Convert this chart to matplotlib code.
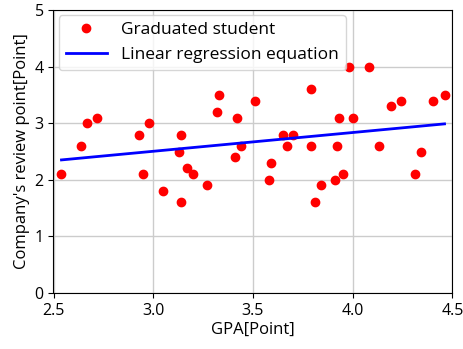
import numpy as np
import matplotlib.pyplot as plt

plt.rcParams['font.family'] = ['Open Sans', 'DejaVu Sans']

# GPA and company review points of graduated students
gpa = [2.54, 2.64, 2.67, 2.72, 2.93, 2.95, 2.98, 3.05, 3.13, 3.14, 3.14,
       3.17, 3.20, 3.27, 3.32, 3.33, 3.41, 3.42, 3.44, 3.51, 3.58, 3.59,
       3.65, 3.67, 3.70, 3.79, 3.79, 3.81, 3.84, 3.91, 3.92, 3.93, 3.95,
       3.98, 4.00, 4.08, 4.13, 4.19, 4.24, 4.31, 4.34, 4.40, 4.46]
review = [2.1, 2.6, 3.0, 3.1, 2.8, 2.1, 3.0, 1.8, 2.5, 2.8, 1.6,
          2.2, 2.1, 1.9, 3.2, 3.5, 2.4, 3.1, 2.6, 3.4, 2.0, 2.3,
          2.8, 2.6, 2.8, 3.6, 2.6, 1.6, 1.9, 2.0, 2.6, 3.1, 2.1,
          4.0, 3.1, 4.0, 2.6, 3.3, 3.4, 2.1, 2.5, 3.4, 3.5]

x = np.array(gpa)
y = np.array(review)
slope, intercept = np.polyfit(x, y, 1)
xs = np.sort(x)

fig = plt.figure(figsize=(4.64, 3.49), dpi=100)
ax = fig.add_axes([53.5 / 464, 56 / 349, 399 / 464, 283 / 349])

ax.plot(x, y, 'o', color='red', markersize=6, label='Graduated student')
ax.plot(xs, slope * xs + intercept, color='blue', linewidth=2,
        label='Linear regression equation')

ax.set_xlim(2.5, 4.5)
ax.set_ylim(0, 5)
ax.set_xticks([2.5, 3.0, 3.5, 4.0, 4.5])
ax.set_xlabel('GPA[Point]', fontsize=12, labelpad=2)
ax.set_ylabel("Company's review point[Point]", fontsize=12, labelpad=3)
ax.tick_params(labelsize=11.5)
ax.grid(True, color='#cccccc', linewidth=1)
ax.legend(loc='upper left', fontsize=12.5, borderaxespad=0.3,
          handlelength=2.4)

fig.savefig('out.png', dpi=100)
